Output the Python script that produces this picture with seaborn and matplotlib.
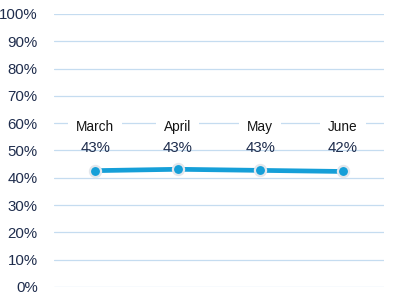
import matplotlib
matplotlib.use("Agg")
import matplotlib.pyplot as plt
import seaborn as sns
import pandas as pd
from matplotlib.ticker import PercentFormatter

months = ["March", "April", "May", "June"]
values = [42.6, 43.1, 42.7, 42.3]
value_labels = ["43%", "43%", "43%", "42%"]

sns.set_theme(style="white")
plt.rcParams['font.family'] = ['Liberation Sans', 'DejaVu Sans']

df = pd.DataFrame({"month": months, "value": values})

fig = plt.figure(figsize=(3.93, 3.02), dpi=100)
ax = fig.add_axes([0.137, 0.0497, 0.84, 0.9043])

line_color = "#159FD8"
sns.lineplot(data=df, x="month", y="value", ax=ax, color=line_color, linewidth=3.4,
             marker="o", markersize=8, markerfacecolor=line_color,
             markeredgecolor="#E3E7EC", markeredgewidth=1.6, zorder=5, sort=False)

ax.set_ylim(0, 100)
ax.set_xlim(-0.5, 3.5)
ax.set_yticks(range(0, 101, 10))
ax.yaxis.set_major_formatter(PercentFormatter(decimals=0))
ax.set_xticks([])
ax.set_xlabel("")
ax.set_ylabel("")
ax.grid(axis="y", color="#C5DCF0", linewidth=0.9)
ax.set_axisbelow(True)
for s in ax.spines.values():
    s.set_visible(False)
ax.tick_params(axis="y", length=0, pad=11.5, labelsize=10.8, labelcolor="#1F2D4D")

for i, (m, lab) in enumerate(zip(months, value_labels)):
    ax.text(i, 58.6, m, ha="center", va="center", fontsize=9.8, color="#141414",
            bbox=dict(facecolor="white", edgecolor="none", boxstyle="square,pad=0.6"),
            zorder=4)
    ax.text(i, 50.8, lab, ha="center", va="center", fontsize=10.8, color="#1F2D4D", zorder=4)

fig.savefig("out.png", dpi=100)
